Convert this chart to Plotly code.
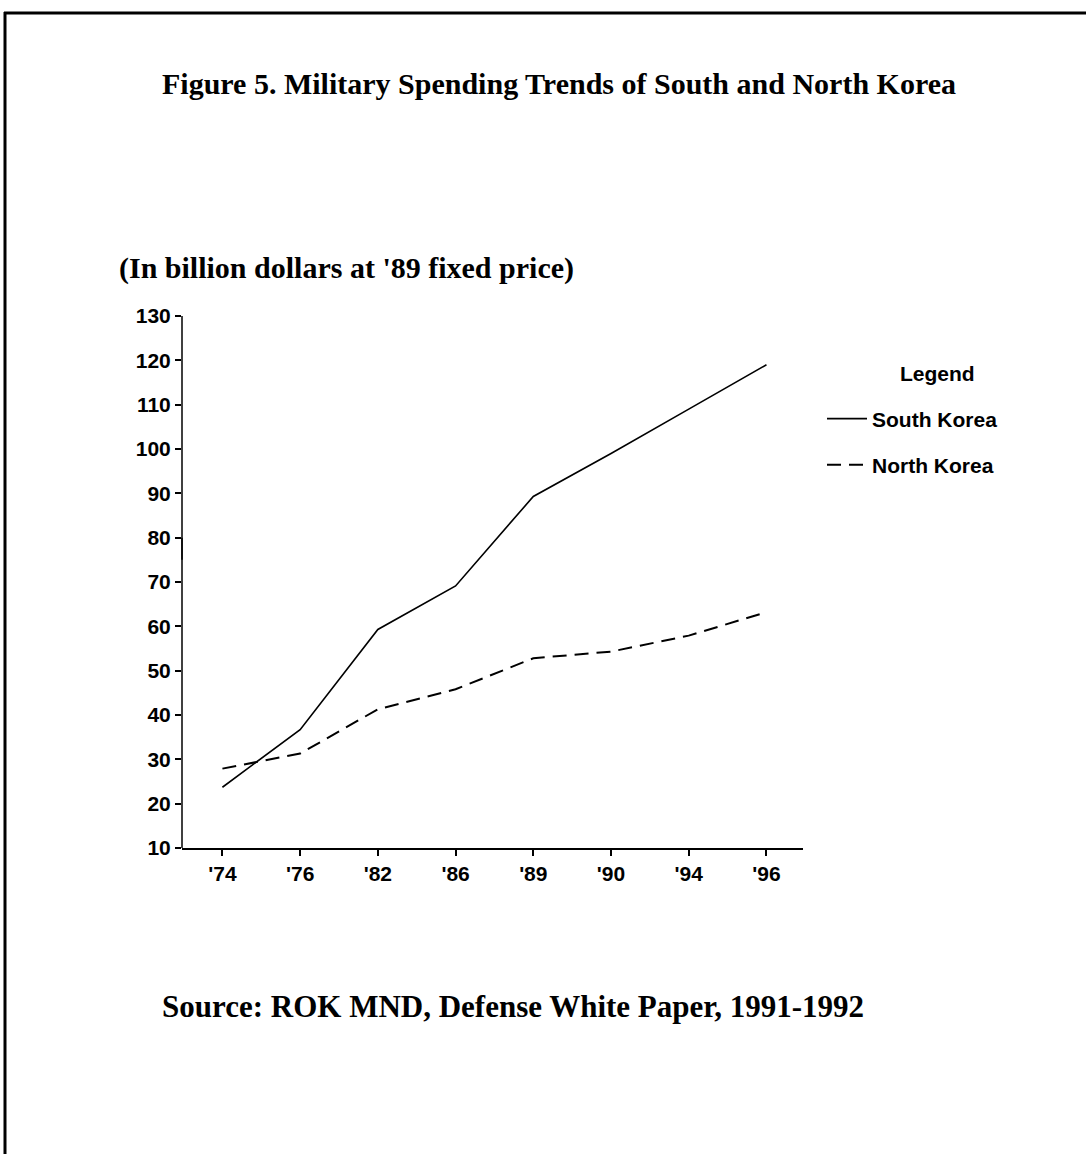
import plotly.graph_objects as go

years = ["'74", "'76", "'82", "'86", "'89", "'90", "'94", "'96"]
south_korea = [23.7, 36.7, 59.3, 69.1, 89.3, 99.0, 109.0, 119.0]
north_korea = [27.9, 31.3, 41.3, 45.8, 52.8, 54.3, 57.9, 63.2]
y_ticks = [10, 20, 30, 40, 50, 60, 70, 80, 90, 100, 110, 120, 130]

W, H = 1086, 1154
# plot area in page pixels
L, R, T, B = 182, 803, 316, 848


def px(x):
    return (x - L) / (R - L)


def py(y):
    return (B - y) / (B - T)


SANS = "Liberation Sans"
SERIF = "Liberation Serif"

fig = go.Figure()
fig.add_trace(go.Scatter(
    x=years, y=south_korea, mode="lines", name="South Korea",
    line=dict(color="black", width=1.6), legend="legend",
))
fig.add_trace(go.Scatter(
    x=years, y=north_korea, mode="lines", name="North Korea",
    line=dict(color="black", width=2, dash="14px,8px"), legend="legend2",
))

leg_font = dict(family=SANS, size=21, color="black", weight="bold")
fig.update_layout(
    width=W, height=H,
    margin=dict(l=L, r=W - R, t=T, b=H - B, pad=0),
    paper_bgcolor="white", plot_bgcolor="white",
    showlegend=True,
    legend=dict(
        x=px(822), xanchor="left", y=py(419), yanchor="middle",
        bgcolor="rgba(0,0,0,0)", borderwidth=0, itemwidth=40, font=leg_font,
    ),
    legend2=dict(
        x=px(822), xanchor="left", y=py(465), yanchor="middle",
        bgcolor="rgba(0,0,0,0)", borderwidth=0, itemwidth=40, font=leg_font,
    ),
    xaxis=dict(
        type="category", range=[-0.52, 7.47],
        showline=True, linecolor="black", linewidth=1.5,
        ticks="outside", ticklen=6, tickwidth=1.5, tickcolor="black",
        showgrid=False, zeroline=False,
        tickfont=dict(family=SANS, size=21, color="black", weight="bold"),
    ),
    yaxis=dict(
        range=[10, 130], tickvals=y_ticks,
        showline=False,
        ticks="outside", ticklen=6, tickwidth=1.5, tickcolor="black",
        showgrid=False, zeroline=False,
        tickfont=dict(family=SANS, size=21, color="black", weight="bold"),
    ),
)

# y axis line with a break between 80 and 75
fig.add_shape(type="line", xref="paper", yref="y", x0=0, x1=0, y0=10, y1=80,
              line=dict(color="black", width=1.5))
fig.add_shape(type="line", xref="paper", yref="y", x0=0, x1=0, y0=75, y1=130,
              line=dict(color="black", width=1.5))

# page border (top and left)
fig.add_shape(type="line", xref="paper", yref="paper",
              x0=px(4), x1=px(1095), y0=py(13), y1=py(13),
              line=dict(color="black", width=3))
fig.add_shape(type="line", xref="paper", yref="paper",
              x0=px(5), x1=px(5), y0=py(12), y1=py(1165),
              line=dict(color="black", width=3))

fig.add_annotation(
    text="Legend", xref="paper", yref="paper", x=px(937), y=py(373),
    xanchor="center", yanchor="middle", showarrow=False, font=leg_font,
)
fig.add_annotation(
    text="Figure 5. Military Spending Trends of South and North Korea",
    xref="paper", yref="paper", x=px(160), y=py(84), xanchor="left", yanchor="middle",
    showarrow=False, font=dict(family=SERIF, size=30, color="black", weight="bold"),
)
fig.add_annotation(
    text="(In billion dollars at '89 fixed price)",
    xref="paper", yref="paper", x=px(117), y=py(268), xanchor="left", yanchor="middle",
    showarrow=False, font=dict(family=SERIF, size=30, color="black", weight="bold"),
)
fig.add_annotation(
    text="Source: ROK MND, Defense White Paper, 1991-1992",
    xref="paper", yref="paper", x=px(160), y=py(1006), xanchor="left", yanchor="middle",
    showarrow=False, font=dict(family=SERIF, size=31, color="black", weight="bold"),
)

fig.write_html(
    "out.html",
    config={"displayModeBar": False},
    post_script="document.body.style.margin='0';document.body.style.overflow='hidden';",
)
